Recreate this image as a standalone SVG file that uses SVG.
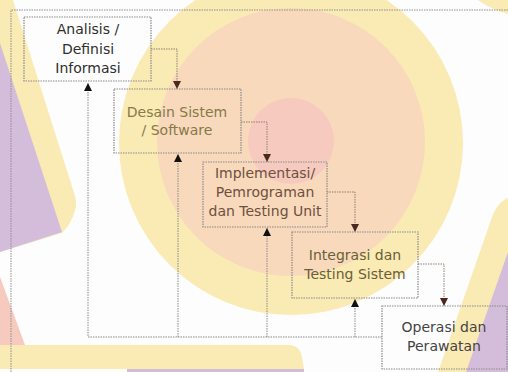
<svg xmlns="http://www.w3.org/2000/svg" width="508" height="372" viewBox="0 0 508 372">
<style>
.bg{stroke:none}
.y{fill:#FAEAB4}
.pe{fill:#F8D9BB}
.pk{fill:#F6CABF}
.pu{fill:#D4BDDB}
.frame{fill:none;stroke:#8e8e8e;stroke-width:1;stroke-dasharray:1.5 1}
.box{fill:none;stroke:#8a8a8a;stroke-width:1.2;stroke-dasharray:1.5 1}
.fw{fill:none;stroke:#8c7f74;stroke-width:1;stroke-dasharray:1.5 1}
.fb{fill:none;stroke:#8a8a8a;stroke-width:1;stroke-dasharray:1.5 1}
text{font-family:"DejaVu Sans","Liberation Sans",sans-serif;font-size:14px;text-anchor:middle}
</style>
<defs>
<marker id="ad" viewBox="0 0 8 8" refX="8" refY="4" markerWidth="8" markerHeight="8" markerUnits="userSpaceOnUse" orient="auto">
<path d="M0,0 L8,4 L0,8 z" fill="#4a2a1e"/>
</marker>
<marker id="au" viewBox="0 0 8 8" refX="8" refY="4" markerWidth="8" markerHeight="8" markerUnits="userSpaceOnUse" orient="auto">
<path d="M0,0 L8,4 L0,8 z" fill="#111"/>
</marker>
</defs>
<rect x="0" y="0" width="508" height="372" fill="#FDFDFD"/>
<g id="background">
<circle class="bg y" cx="291" cy="143" r="172"/>
<circle class="bg pe" cx="291" cy="142" r="134"/>
<circle class="bg pk" cx="291" cy="141" r="43"/>
<path class="bg y" d="M0,0 L13,0 L75,196 Q79,208 68,226 L62,233 L0,252 Z"/>
<path class="bg pu" d="M0,43 L60,226 L62,232 L0,252 Z"/>
<path class="bg pk" d="M0,277 L25,345 L0,345 Z"/>
<path class="bg y" d="M0,345 L288,345 Q300,345 302,357 L304,369 L0,369 Z"/>
<path class="bg pu" d="M127,369 L304,369 L304,372 L127,372 Z"/>
<path class="bg y" d="M478,0 L508,0 L508,14 Q492,10 478,0 Z"/>
<path class="bg y" d="M508,198 L508,372 L438,372 L491,220 Q497,202 508,198 Z"/>
<path class="bg pu" d="M508,252 L508,372 L466,372 Z"/>
</g>
<g id="frame">
<path class="frame" d="M11,372 V10 H508"/>
</g>
<g id="connectors">
<path class="fw" d="M151,49 H177 V89" marker-end="url(#ad)"/>
<path class="fw" d="M241,122 H267 V162" marker-end="url(#ad)"/>
<path class="fw" d="M327,192 H355 V232" marker-end="url(#ad)"/>
<path class="fw" d="M418,264 H444 V306" marker-end="url(#ad)"/>
<path class="fb" d="M382,337 H88 V83" marker-end="url(#au)"/>
<path class="fb" d="M178,337 V154" marker-end="url(#au)"/>
<path class="fb" d="M267,337 V228" marker-end="url(#au)"/>
<path class="fb" d="M355,337 V299" marker-end="url(#au)"/>
</g>
<g id="node-analisis">
<rect class="box" x="24" y="17" width="127" height="64"/>
<text fill="#2e2e2e"><tspan x="88" y="34">Analisis /</tspan><tspan x="88" y="54">Definisi</tspan><tspan x="88" y="73">Informasi</tspan></text>
</g>
<g id="node-desain">
<rect class="box" x="114" y="89" width="127" height="64"/>
<text fill="#857a48"><tspan x="177" y="117">Desain Sistem</tspan><tspan x="177" y="135">/ Software</tspan></text>
</g>
<g id="node-implementasi">
<rect class="box" x="203" y="162" width="124" height="65"/>
<text fill="#6e5040"><tspan x="265" y="178">Implementasi/</tspan><tspan x="265" y="197">Pemrograman</tspan><tspan x="265" y="216">dan Testing Unit</tspan></text>
</g>
<g id="node-integrasi">
<rect class="box" x="292" y="232" width="126" height="66"/>
<text fill="#6a5f38"><tspan x="355" y="260">Integrasi dan</tspan><tspan x="355" y="279">Testing Sistem</tspan></text>
</g>
<g id="node-operasi">
<rect class="box" x="382" y="306" width="125" height="63"/>
<text fill="#444"><tspan x="444" y="332">Operasi dan</tspan><tspan x="444" y="351">Perawatan</tspan></text>
</g>
</svg>
